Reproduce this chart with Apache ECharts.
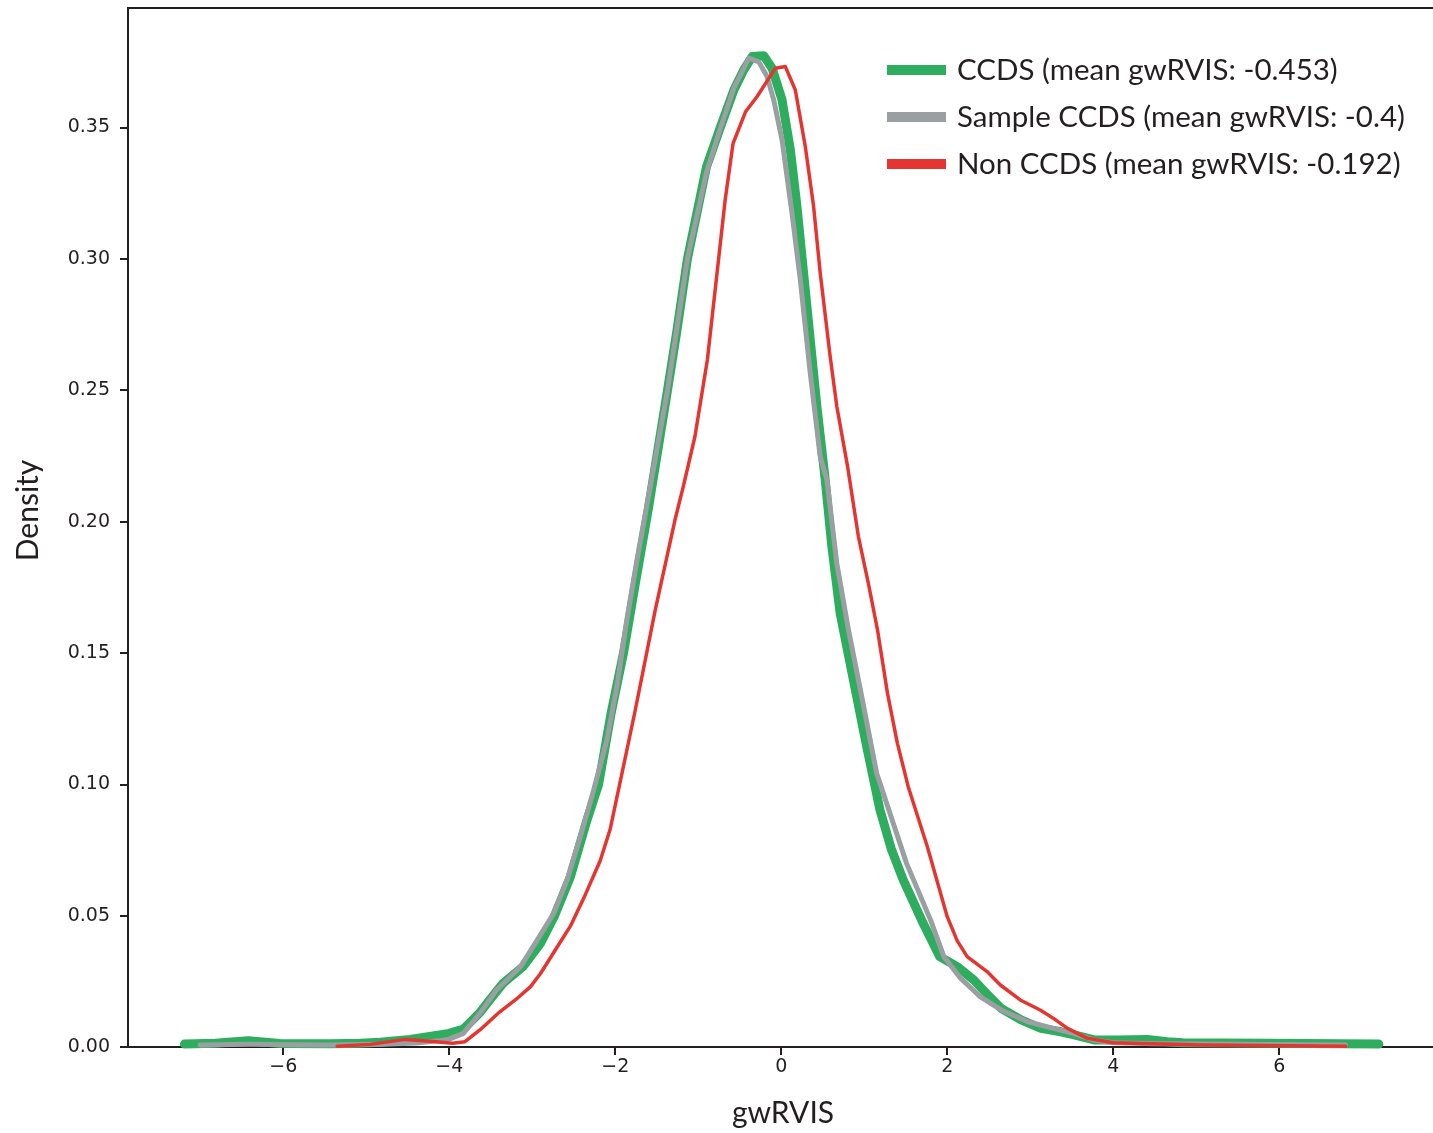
<!DOCTYPE html>
<html>
<head>
<meta charset="utf-8">
<script src="https://cdn.jsdelivr.net/npm/echarts@6/dist/echarts.min.js"></script>
<style>
html,body{margin:0;padding:0;background:#fff;}
#chart{width:1433px;height:1133px;}
</style>
</head>
<body>
<div id="chart"></div>
<script>
// ---- data ----
const seriesNames = [
  'CCDS (mean gwRVIS: -0.453)',
  'Sample CCDS (mean gwRVIS: -0.4)',
  'Non CCDS (mean gwRVIS: -0.192)'
];
const xTicks = [-6, -4, -2, 0, 2, 4, 6];
const yTicks = [0, 0.05, 0.10, 0.15, 0.20, 0.25, 0.30, 0.35];

const ccdsX = [-7.19,-6.82,-6.42,-6.04,-5.43,-5.07,-4.83,-4.47,-4.0,-3.83,-3.63,-3.51,-3.35,-3.11,-2.9,-2.73,-2.54,-2.34,-2.2,-2.05,-1.9,-1.76,-1.6,-1.37,-1.26,-1.13,-0.9,-0.73,-0.57,-0.45,-0.35,-0.21,-0.11,0.01,0.11,0.19,0.31,0.43,0.53,0.61,0.71,0.87,1.03,1.19,1.33,1.47,1.71,1.91,2.12,2.32,2.5,2.65,2.89,3.13,3.37,3.53,3.77,4.05,4.41,4.65,4.84,5.85,7.2];
const ccdsY = [0.0011,0.0014,0.0024,0.0013,0.0012,0.0014,0.0018,0.0029,0.0052,0.0068,0.0131,0.018,0.0243,0.0306,0.0395,0.05,0.0648,0.0864,0.10,0.127,0.15,0.176,0.205,0.25,0.272,0.30,0.3351,0.3504,0.3643,0.372,0.377,0.3773,0.3726,0.3605,0.3415,0.3199,0.2818,0.2438,0.2159,0.1905,0.1651,0.1397,0.1143,0.0902,0.075,0.0636,0.0471,0.0344,0.0306,0.0255,0.0195,0.0147,0.0103,0.0071,0.0058,0.0046,0.0027,0.0027,0.0029,0.002,0.0016,0.0014,0.0011];

const sampleX = [-7.0,-6.4,-5.5,-4.8,-4.4,-4.1,-4.0,-3.83,-3.63,-3.43,-3.14,-2.94,-2.74,-2.58,-2.42,-2.26,-2.1,-1.98,-1.86,-1.74,-1.58,-1.37,-1.13,-0.9,-0.73,-0.57,-0.39,-0.27,-0.17,-0.09,0.01,0.13,0.23,0.35,0.47,0.55,0.67,0.81,0.97,1.15,1.31,1.51,1.8,1.96,2.16,2.4,2.65,2.97,3.28,3.52,3.76,4.0,4.5,5.5,6.8];
const sampleY = [0.0008,0.001,0.0008,0.001,0.0015,0.0025,0.003,0.0052,0.0128,0.0217,0.0306,0.0407,0.0509,0.0636,0.0801,0.0978,0.1169,0.1372,0.1626,0.185,0.213,0.25,0.30,0.333,0.350,0.365,0.3764,0.375,0.3694,0.3605,0.3453,0.3174,0.292,0.2565,0.2247,0.2159,0.1841,0.1588,0.1334,0.1042,0.089,0.0699,0.0483,0.0344,0.0262,0.0191,0.0141,0.0096,0.0071,0.0052,0.0027,0.0016,0.0012,0.001,0.0008];

const nonX = [-5.35,-4.95,-4.53,-4.23,-3.96,-3.81,-3.63,-3.39,-3.2,-3.02,-2.9,-2.72,-2.54,-2.36,-2.18,-2.06,-1.92,-1.76,-1.64,-1.52,-1.28,-1.18,-1.04,-0.89,-0.675,-0.58,-0.43,-0.29,-0.07,0.05,0.17,0.29,0.39,0.47,0.59,0.67,0.8,0.93,1.05,1.16,1.28,1.4,1.53,1.76,2.0,2.12,2.24,2.48,2.64,2.88,3.12,3.28,3.45,3.69,4.0,5.05,6.8];
const nonY = [0.0003,0.001,0.0029,0.0022,0.0014,0.002,0.0065,0.0134,0.018,0.023,0.028,0.037,0.046,0.058,0.071,0.083,0.104,0.128,0.147,0.166,0.2006,0.2133,0.2323,0.2615,0.3225,0.344,0.356,0.3618,0.3726,0.3732,0.3643,0.3428,0.32,0.2946,0.2628,0.2438,0.2209,0.1943,0.1765,0.1588,0.1347,0.1156,0.0991,0.0763,0.0496,0.0405,0.0344,0.0287,0.0236,0.0179,0.0141,0.0109,0.0071,0.0033,0.0016,0.0008,0.0003];

const colors = ['#2EAD5F', '#9A9FA2', '#E53531'];
const widths = [9, 5, 3.5];

function pairs(xs, ys){ return xs.map((x,i)=>[x, ys[i]]); }

const ink = '#231f20';
const chart = echarts.init(document.getElementById('chart'), null, {renderer:'canvas'});
const allX = [ccdsX, sampleX, nonX];
const allY = [ccdsY, sampleY, nonY];

chart.setOption({
  animation: false,
  backgroundColor: '#ffffff',
  grid: {left:128, top:8, width:1310, height:1039, show:true, borderColor:ink, borderWidth:2,
         containLabel:false, outerBoundsMode:'none'},
  legend: {
    orient: 'vertical',
    left: 882, top: 50,
    itemWidth: 59, itemHeight: 10, itemGap: 17,
    icon: 'rect',
    data: seriesNames.map((n,i)=>({name:n, itemStyle:{color:colors[i]}})),
    textStyle: {fontFamily:'Lato', fontSize:29.5, color:ink, lineHeight:28, padding:[0,0,0,6]}
  },
  xAxis: {
    type: 'value', min: -7.87, max: 7.913,
    name: 'gwRVIS', nameLocation: 'middle', nameGap: 51,
    nameTextStyle: {fontFamily:'Lato', fontSize:30, color:ink},
    splitLine: {show:false},
    axisLine: {show:true, onZero:false, lineStyle:{color:ink, width:2}},
    axisTick: {show:true, length:8, lineStyle:{color:ink, width:2}, customValues: xTicks},
    axisLabel: {customValues: xTicks, margin: 11, fontFamily:'DejaVu Sans', fontSize:19, color:ink,
      formatter: v => (v < 0 ? '\u2212' + Math.abs(v) : String(v))}
  },
  yAxis: {
    type: 'value', min: 0, max: 0.3955,
    name: 'Density', nameLocation: 'middle', nameGap: 85,
    nameTextStyle: {fontFamily:'Lato', fontSize:30, color:ink, padding:[0,0,0,34]},
    splitLine: {show:false},
    axisLine: {show:true, onZero:false, lineStyle:{color:ink, width:2}},
    axisTick: {show:true, length:8, lineStyle:{color:ink, width:2}, customValues: yTicks},
    axisLabel: {customValues: yTicks, margin: 18, fontFamily:'DejaVu Sans', fontSize:19, color:ink,
      formatter: v => v.toFixed(2)}
  },
  series: seriesNames.map((n,i)=>({
    name: n, type: 'line', showSymbol: false, smooth: false,
    data: pairs(allX[i], allY[i]),
    lineStyle: {color: colors[i], width: widths[i], join:'round', cap:'round'},
    itemStyle: {color: colors[i]},
    z: 2 + i
  }))
});
</script>
</body>
</html>
